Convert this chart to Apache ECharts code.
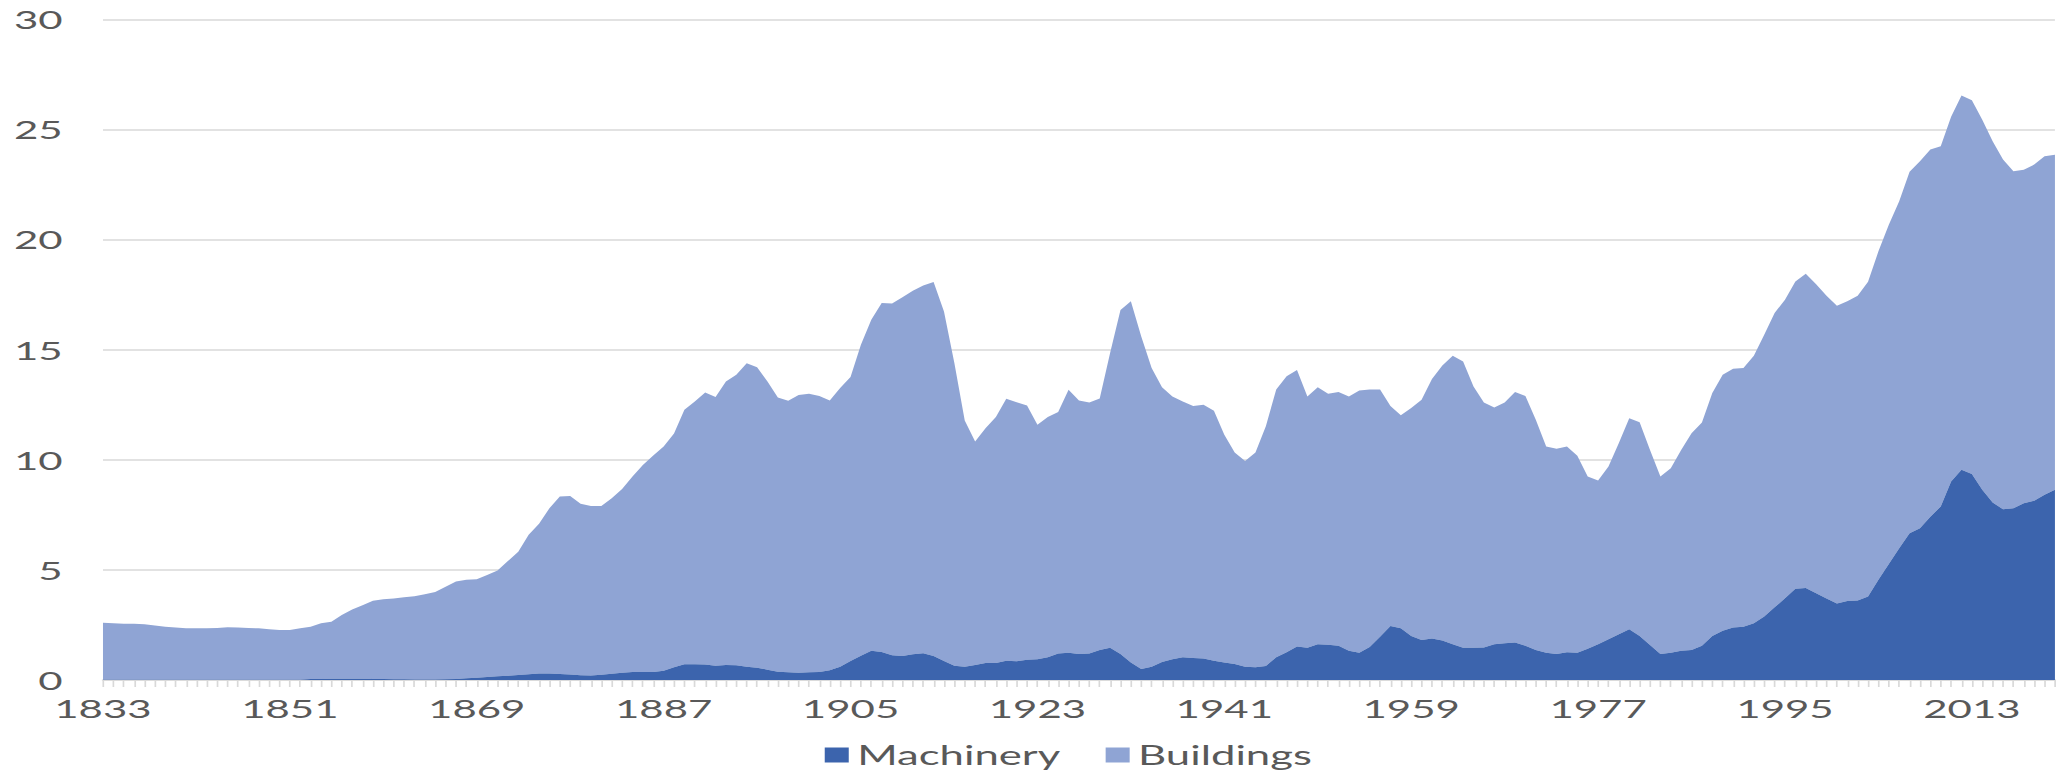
<!DOCTYPE html>
<html>
<head>
<meta charset="utf-8">
<script src="https://cdn.jsdelivr.net/npm/echarts@6/dist/echarts.min.js"></script>
<style>
  html, body { margin: 0; padding: 0; background: #ffffff; overflow: hidden; }
  #wrap { width: 2061px; height: 773px; overflow: hidden; }
  /* the reference picture is horizontally stretched; reproduce that by scaling the chart box */
  #chart { width: 1227px; height: 773px; transform: scaleX(1.6797); transform-origin: 0 0; }
</style>
</head>
<body>
<div id="wrap"><div id="chart"></div></div>
<script>
// ---- data ----
const startYear = 1833;
const endYear = 2021;
const years = [];
for (let y = startYear; y <= endYear; y++) years.push(String(y));

const seriesNames = ['Machinery', 'Buildings'];

// Machinery, 1833-2021 (one value per year)
const machinery = [
  0.01, 0.01, 0.01, 0.01, 0.01, 0.01, 0.01,                    // 1833-1839
  0.01, 0.01, 0.01, 0.01, 0.01, 0.01, 0.01, 0.01, 0.01, 0.01,  // 1840s
  0.01, 0.01, 0.01, 0.04, 0.05, 0.06, 0.06, 0.06, 0.06, 0.05,  // 1850s
  0.04, 0.03, 0.03, 0.02, 0.02, 0.02, 0.03, 0.05, 0.08, 0.10,  // 1860s
  0.14, 0.17, 0.19, 0.23, 0.26, 0.30, 0.30, 0.27, 0.25, 0.22,  // 1870s
  0.20, 0.24, 0.28, 0.33, 0.36, 0.36, 0.36, 0.42, 0.58, 0.71,  // 1880s
  0.71, 0.70, 0.65, 0.68, 0.67, 0.60, 0.56, 0.47, 0.38, 0.35,  // 1890s
  0.33, 0.35, 0.36, 0.44, 0.60, 0.86, 1.10, 1.33, 1.27, 1.12,  // 1900s
  1.09, 1.17, 1.21, 1.09, 0.86, 0.65, 0.60, 0.68, 0.77, 0.77,  // 1910s
  0.88, 0.85, 0.92, 0.94, 1.03, 1.20, 1.24, 1.18, 1.20, 1.36,  // 1920s
  1.47, 1.18, 0.79, 0.50, 0.60, 0.82, 0.94, 1.03, 1.00, 0.98,  // 1930s
  0.88, 0.80, 0.73, 0.60, 0.58, 0.64, 1.03, 1.26, 1.52, 1.47,  // 1940s
  1.62, 1.60, 1.55, 1.33, 1.24, 1.50, 1.97, 2.45, 2.35, 2.00,  // 1950s
  1.82, 1.89, 1.79, 1.62, 1.47, 1.47, 1.48, 1.62, 1.67, 1.70,  // 1960s
  1.56, 1.36, 1.24, 1.18, 1.26, 1.24, 1.42, 1.62, 1.85, 2.08,  // 1970s
  2.30, 2.00, 1.59, 1.18, 1.24, 1.33, 1.36, 1.55, 2.00, 2.24,  // 1980s
  2.38, 2.42, 2.58, 2.88, 3.30, 3.71, 4.14, 4.18, 3.94, 3.70,  // 1990s
  3.48, 3.59, 3.61, 3.79, 4.55, 5.27, 5.98, 6.67, 6.89, 7.42,  // 2000s
  7.88, 9.02, 9.55, 9.36, 8.64, 8.06, 7.76, 7.80, 8.03, 8.14,  // 2010s
  8.41, 8.64                                                   // 2020-2021
];

// Buildings, 1833-2021 (stacked on top of Machinery)
const buildings = [
  2.59, 2.57, 2.55, 2.54, 2.52, 2.46, 2.41,                         // 1833-1839
  2.37, 2.34, 2.34, 2.34, 2.35, 2.39, 2.37, 2.35, 2.34, 2.29,       // 1840s
  2.26, 2.26, 2.34, 2.38, 2.53, 2.59, 2.89, 3.14, 3.34, 3.55,       // 1850s
  3.63, 3.67, 3.73, 3.78, 3.88, 3.98, 4.21, 4.42, 4.47, 4.48,       // 1860s
  4.63, 4.80, 5.21, 5.60, 6.34, 6.80, 7.50, 8.06, 8.11, 7.78,       // 1870s
  7.70, 7.66, 7.98, 8.34, 8.88, 9.41, 9.84, 10.18, 10.62, 11.56,    // 1880s
  11.94, 12.36, 12.20, 12.88, 13.19, 13.79, 13.64, 13.09, 12.45, 12.33, // 1890s
  12.61, 12.65, 12.54, 12.26, 12.66, 12.90, 14.13, 15.03, 15.85, 15.98, // 1900s
  16.29, 16.51, 16.71, 16.99, 15.88, 13.75, 11.19, 10.15, 10.67, 11.17, // 1910s
  11.89, 11.77, 11.55, 10.65, 10.91, 10.97, 11.94, 11.52, 11.40, 11.43, // 1920s
  13.38, 15.62, 16.41, 15.10, 13.57, 12.48, 11.94, 11.62, 11.45, 11.52, // 1930s
  11.35, 10.34, 9.60, 9.35, 9.75, 10.88, 12.17, 12.54, 12.56, 11.41,    // 1940s
  11.68, 11.40, 11.53, 11.55, 11.91, 11.70, 11.23, 10.00, 9.67, 10.35,  // 1950s
  10.91, 11.78, 12.50, 13.11, 13.00, 11.86, 11.12, 10.76, 10.93, 11.38, // 1960s
  11.34, 10.46, 9.36, 9.32, 9.34, 8.94, 7.82, 7.44, 7.85, 8.68,         // 1970s
  9.59, 9.71, 8.86, 8.06, 8.38, 9.12, 9.85, 10.15, 11.03, 11.62,        // 1980s
  11.76, 11.75, 12.15, 12.80, 13.37, 13.56, 13.96, 14.27, 14.04, 13.75, // 1990s
  13.52, 13.61, 13.84, 14.30, 14.92, 15.41, 15.76, 16.41, 16.67, 16.67, // 2000s
  16.36, 16.56, 17.00, 16.97, 16.81, 16.41, 15.88, 15.31, 15.15, 15.27, // 2010s
  15.38, 15.22                                                           // 2020-2021
];

const yTicks = { min: 0, max: 30, interval: 5 };

// ---- chart ----
const textColor = '#595959';
const fontFamily = 'Lato, "Open Sans", sans-serif';
const chart = echarts.init(document.getElementById('chart'), null, { renderer: 'svg' });

chart.setOption({
  animation: false,
  backgroundColor: '#ffffff',
  color: ['#3c64ad', '#8fa4d4'],
  textStyle: { fontFamily: fontFamily },
  grid: { left: 61.3, right: 3.6, top: 19.5, bottom: 93, containLabel: false },
  legend: {
    data: seriesNames,
    left: 486,
    top: 737,
    itemWidth: 14.3,
    itemHeight: 15,
    itemGap: 27,
    icon: 'rect',
    textStyle: { color: textColor, fontSize: 26, fontFamily: fontFamily }
  },
  xAxis: {
    type: 'category',
    data: years,
    boundaryGap: false,
    axisLine: { show: true, lineStyle: { color: '#d9d9d9', width: 1.5 } },
    axisTick: { show: true, interval: 0, length: 7, lineStyle: { color: '#d9d9d9', width: 1 } },
    axisLabel: { interval: 17, color: textColor, fontSize: 25, fontFamily: fontFamily, margin: 16 },
    splitLine: { show: false }
  },
  yAxis: {
    type: 'value',
    min: yTicks.min,
    max: yTicks.max,
    interval: yTicks.interval,
    axisLine: { show: false },
    axisTick: { show: false },
    axisLabel: { color: textColor, fontSize: 25, fontFamily: fontFamily, margin: 24 },
    splitLine: { show: true, lineStyle: { color: '#d9d9d9', width: 1.5 } }
  },
  series: [
    {
      name: seriesNames[0],
      type: 'line',
      stack: 'total',
      data: machinery,
      showSymbol: false,
      symbol: 'none',
      lineStyle: { width: 0 },
      areaStyle: { opacity: 1, color: '#3c64ad' },
      z: 3
    },
    {
      name: seriesNames[1],
      type: 'line',
      stack: 'total',
      data: buildings,
      showSymbol: false,
      symbol: 'none',
      lineStyle: { width: 0 },
      areaStyle: { opacity: 1, color: '#8fa4d4' },
      z: 2
    }
  ]
});
</script>
</body>
</html>
